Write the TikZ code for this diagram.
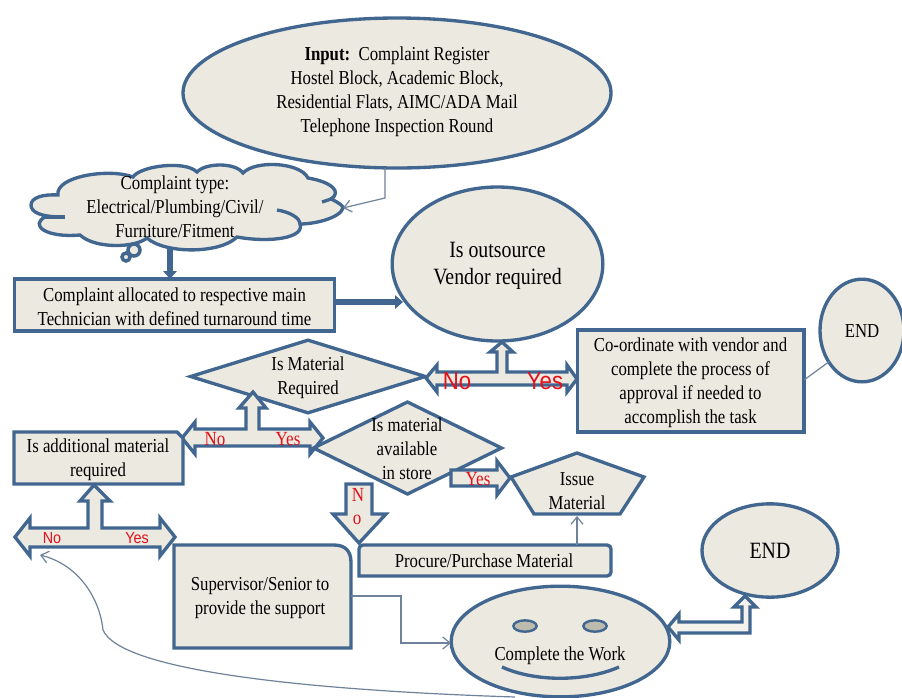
\documentclass[tikz,border=0pt]{standalone}
\usepackage{fontspec}
\setmainfont[FakeStretch=0.85]{Liberation Serif}
\setsansfont[FakeStretch=0.9]{Liberation Sans}
\usetikzlibrary{shapes.geometric,arrows.meta,calc}
\definecolor{edgeblue}{HTML}{41668F}
\definecolor{shapefill}{HTML}{ECE9E0}
\definecolor{thinline}{HTML}{6F829B}
\definecolor{eyefill}{HTML}{BDBAAE}
\definecolor{labelred}{HTML}{E3101A}
\tikzset{
  x=0.75pt,y=-0.75pt,
  shapeline/.style={draw=edgeblue,line width=2.5pt,fill=shapefill,line join=miter},
  ebox/.style={shapeline,rectangle,inner sep=0pt,outer sep=0pt},
  eell/.style={shapeline,ellipse,inner sep=0pt,outer sep=0pt},
  eshape/.style={shapeline,inner sep=0pt,outer sep=0pt},
  txt/.style={inner sep=0pt,outer sep=0pt,align=center,font=\fontsize{14.8}{17.9}\selectfont},
  bigtxt/.style={inner sep=0pt,outer sep=0pt,align=center,font=\fontsize{17.5}{20.5}\selectfont},
  redser/.style={inner sep=0pt,text=labelred,font=\fontsize{15}{16}\selectfont},
  redsan/.style={inner sep=0pt,text=labelred,font=\sffamily\fontsize{12}{14}\selectfont},
  redbig/.style={inner sep=0pt,text=labelred,font=\sffamily\fontsize{18.5}{20}\selectfont},
  thin conn/.style={draw=thinline,line width=0.9pt,-{Straight Barb[length=5.5pt,width=9pt]}},
  plain conn/.style={draw=thinline,line width=0.9pt},
  thick conn/.style={draw=edgeblue,line width=4.4pt,-{Triangle[length=6pt,width=10pt]}},
}
\begin{document}
\begin{tikzpicture}
\clip (0,0) rectangle (902,697);
\fill[white] (0,0) rectangle (902,697);

% Input ellipse
\node[eell,minimum width=321pt,minimum height=112.5pt] (input) at (397,93) {};
\node[txt] (inputtxt) at (397,92) {\textbf{Input:}\ \ Complaint Register\\Hostel Block, Academic Block,\\Residential Flats, AIMC/ADA Mail\\Telephone Inspection Round};

% Cloud
\coordinate (cloudtip) at (343,208);
\draw[shapeline,fill=shapefill] (63,217)
  .. controls (40,217) and (31,212) .. (31,205)
  .. controls (31,198) and (42,194) .. (58,195)
  .. controls (55,176) and (110,168) .. (133,177)
  .. controls (140,166) and (185,160) .. (197,172)
  .. controls (205,163) and (235,162) .. (243,173)
  .. controls (255,160) and (300,162) .. (308,178)
  .. controls (332,182) and (342,192) .. (331,199)
  .. controls (340,203) and (345,208) .. (343,208)
  .. controls (340,218) and (315,224) .. (300,224)
  .. controls (305,238) and (270,243) .. (237,237)
  .. controls (220,254) and (165,254) .. (147,238)
  .. controls (135,248) and (95,249) .. (80,235)
  .. controls (45,238) and (30,225) .. (45,217)
  -- cycle;
\draw[draw=edgeblue,line width=2.5pt] (45,217) -- (65,217);
\draw[draw=edgeblue,line width=2.5pt] (331,199) -- (322,202);
\draw[draw=edgeblue,line width=2.5pt] (277,210) .. controls (290,212) and (300,218) .. (300,224);
\node[shapeline,circle,line width=2.6pt,minimum size=9pt,inner sep=0pt] (bubbleA) at (134,250) {};
\node[shapeline,circle,line width=2.6pt,minimum size=6pt,inner sep=0pt] (bubbleB) at (126,257) {};
\node[txt] (cloudtxt) at (175,207) {Complaint type:\\Electrical/Plumbing/Civil/\\Furniture/Fitment};

% Complaint allocated
\node[ebox,minimum width=240pt,minimum height=39pt] (alloc) at (174.5,305) {};
\node[txt] (alloctxt) at (174.5,307) {Complaint allocated to respective main\\Technician with defined turnaround time};

% Outsource
\node[eell,minimum width=158pt,minimum height=115.5pt] (vendor) at (497.5,264) {};
\node[bigtxt] (vendortxt) at (497.5,266) {Is outsource\\Vendor required};

% Coordinate box + END
\node[ebox,minimum width=170pt,minimum height=76.5pt] (coord) at (690.5,381) {};
\node[txt] (coordtxt) at (690.5,382.5) {Co-ordinate with vendor and\\complete the process of\\approval if needed to\\accomplish the task};
\node[eell,minimum width=63pt,minimum height=77pt] (endA) at (862,330.5) {};
\node[txt] (endAtxt) at (862,331) {END};

% Connectors
\coordinate (cloudbase) at (170,248);
\coordinate (vendorin) at (403,302);
\coordinate (allocout) at (alloc.east |- vendorin);
\coordinate (coordout) at (804,380);
\coordinate (endAin) at (830,361);
\coordinate (inputout) at (385,168);
\draw[thin conn] (inputout) -- (385,198) -- (cloudtip);
\draw[thick conn] (cloudbase) -- (cloudbase |- alloc.north);
\draw[thick conn] (allocout) -- (vendorin);
\draw[plain conn] (coordout) -- (endAin);

% Diamond 1
\node[eshape,diamond,minimum width=176pt,minimum height=54.5pt] (matreq) at (308,376.5) {};
\node[txt] (matreqtxt) at (308,378) {Is Material\\Required};

% T arrow 1
\draw[shapeline] (426,378) -- (437,365) -- (437,372) -- (497,372) -- (497,352) -- (490,352) -- (502,342) -- (513,352) -- (507,352) -- (507,372) -- (567,372) -- (567,365) -- (577,379) -- (567,392) -- (567,385) -- (437,385) -- (437,392) -- cycle;
\node[redbig] (no1) at (457,381) {No};
\node[redbig] (yes1) at (545,381) {Yes};

% T arrow 2
\draw[shapeline] (182,438) -- (195,422) -- (195,429) -- (246,429) -- (246,408) -- (239,408) -- (253,392) -- (266,408) -- (259,408) -- (259,429) -- (310,429) -- (310,422) -- (323,438) -- (310,454) -- (310,446) -- (195,446) -- (195,454) -- cycle;
\node[redser] (no2) at (215,439) {No};
\node[redser] (yes2) at (288,439) {Yes};

% Diamond 2
\node[eshape,diamond,minimum width=141pt,minimum height=69pt] (matstore) at (407.5,448) {};
\node[txt] (matstoretxt) at (407,449) {Is material\\available\\in store};

% Yes arrow to Issue
\draw[shapeline] (451,470) -- (497,470) -- (497,461) -- (510,478) -- (497,495) -- (497,486) -- (451,486) -- cycle;
\node[redser] (yes3) at (478,479) {Yes};

% No arrow down
\draw[shapeline] (346,484) -- (372,484) -- (372,514) -- (386,514) -- (359,543) -- (333,514) -- (346,514) -- cycle;
\node[redser] (no3a) at (358,495) {N};
\node[redser] (no3b) at (357,520) {o};

% Pentagon
\draw[shapeline] (577,453) -- (644,477) -- (620,514) -- (534,514) -- (511,477) -- cycle;
\node[txt] (issue) at (577,491) {Issue\\Material};

% Procure
\draw[shapeline,rounded corners=3pt] (359,576) -- (359,545) -- (611,545) -- (611,576) [sharp corners] -- cycle;
\node[txt] (procure) at (484,561) {Procure/Purchase Material};
\draw[thin conn] (577,545) -- (577,516);

% Is additional
\draw[shapeline] (14,484) -- (14,432) -- (177,432) -- (183,438) -- (183,484) -- cycle;
\node[txt] (addl) at (98,460) {Is additional material\\required};

% T arrow 3
\draw[shapeline] (15,537) -- (30,518) -- (30,528) -- (88,528) -- (88,501) -- (80,501) -- (94,485) -- (110,501) -- (102,501) -- (102,528) -- (160,528) -- (160,518) -- (175,537) -- (160,556) -- (160,547) -- (30,547) -- (30,556) -- cycle;
\node[redsan] (no4) at (52,538) {No};
\node[redsan] (yes4) at (137,538) {Yes};

% Supervisor
\draw[shapeline] (174,648) -- (174,545) -- (334,545) .. controls (345,545) and (351,551) .. (351,562) -- (351,648) -- cycle;
\node[txt] (super) at (260,598) {Supervisor/Senior to\\provide the support};

% Smile
\node[eell,minimum width=164pt,minimum height=83pt] (smile) at (560.5,641.5) {};
\node[eshape,ellipse,line width=1.8pt,fill=eyefill,minimum width=17.5pt,minimum height=8.5pt] (eyeL) at (525,626) {};
\node[eshape,ellipse,line width=1.8pt,fill=eyefill,minimum width=17.5pt,minimum height=8.5pt] (eyeR) at (595,626) {};
\node[txt] (complete) at (560,656) {Complete the Work};
\draw[draw=edgeblue,line width=2.5pt] (502,667) .. controls (535,682) and (585,682) .. (619,667);

% END 2
\node[eell,minimum width=102pt,minimum height=70pt] (endB) at (770,550.5) {};
\node[bigtxt] (endBtxt) at (770,551) {END};

% Double arrow
\draw[draw=edgeblue,line width=2.5pt,fill=shapefill!60!white] (668,627) -- (679,614) -- (679,622) -- (742,622) -- (742,607) -- (734,607) -- (745,596) -- (756,607) -- (750,607) -- (750,633) -- (679,633) -- (679,640) -- cycle;

% Connectors lower
\coordinate (noend) at (40,555);
\coordinate (superout) at (351,596);
\coordinate (smilein) at (451,643);
\coordinate (smileout) at (515,697);
\draw[thin conn] (superout) -- (401,596) -- (401,643) -- (smilein);
\draw[thin conn] (smileout) .. controls (300,690) and (120,670) .. (103,630) .. controls (100,600) and (80,565) .. (noend);
\end{tikzpicture}
\end{document}
